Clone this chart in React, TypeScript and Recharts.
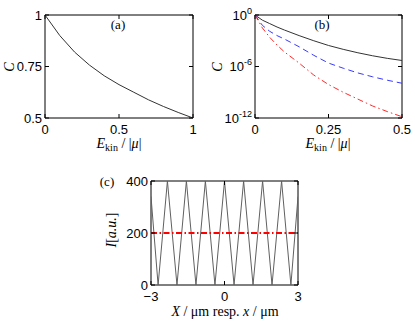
import React from 'react';
import { LineChart, Line, XAxis, YAxis, ReferenceArea } from 'recharts';

// ---- Panel (a) ----
const aEkin = [0, 0.1, 0.2, 0.3, 0.4, 0.5, 0.6, 0.7, 0.8, 0.9, 1.0];
const aC = [1.0, 0.9, 0.82, 0.757, 0.705, 0.662, 0.625, 0.588, 0.556, 0.527, 0.5];
const aXTicks = [0, 0.5, 1];
const aYTicks = [0.5, 0.75, 1];

// ---- Panel (b) (log10 of C) ----
const bEkin = [0, 0.025, 0.05, 0.075, 0.1, 0.15, 0.2, 0.25, 0.3, 0.35, 0.4, 0.45, 0.5];
const bBlackExp = [0, -0.6, -1.0, -1.4, -1.75, -2.4, -3.0, -3.55, -4.0, -4.4, -4.75, -5.05, -5.3];
const bBlueExp = [0, -1.2, -1.9, -2.4, -2.8, -3.7, -4.7, -5.6, -6.2, -6.75, -7.2, -7.6, -7.95];
const bRedExp = [0, -1.5, -2.6, -3.5, -4.3, -5.6, -7.0, -8.1, -9.0, -9.8, -10.6, -11.25, -11.85];
const bXTicks = [0, 0.25, 0.5];
const bYTicks = [-12, -6, 0];

// ---- Panel (c) ----
const cX = [-3, -2.71, -2.33, -1.94, -1.555, -1.165, -0.78, -0.39, 0, 0.39, 0.78, 1.165, 1.555, 1.94, 2.33, 2.71, 3];
const cI = [340, 0, 400, 0, 400, 0, 400, 0, 400, 0, 400, 0, 400, 0, 400, 0, 340];
const cClassicX = [-3, 3];
const cClassicI = [200, 200];
const cXTicks = [-3, 0, 3];
const cYTicks = [0, 200, 400];

const aData = aEkin.map((e, i) => ({ e, c: aC[i] }));
const bData = bEkin.map((e, i) => ({ e, k: bBlackExp[i], bl: bBlueExp[i], r: bRedExp[i] }));
const cData = cX.map((x, i) => ({ x, i: cI[i] }));
const cClassic = cClassicX.map((x, i) => ({ x, i: cClassicI[i] }));

const SANS = '"Liberation Sans", Arial, Helvetica, sans-serif';
const SERIF = '"Liberation Serif", "DejaVu Serif", serif';

function xTick(plotH: number, fmt: (v: number) => React.ReactNode, dy = 16) {
  return (p: any) => {
    const { x, y, payload } = p;
    return (
      <g>
        <line x1={x} x2={x} y1={y} y2={y - 4} stroke="#000" />
        <line x1={x} x2={x} y1={y - plotH} y2={y - plotH + 4} stroke="#000" />
        <text x={x} y={y + dy} textAnchor="middle" fontFamily={SANS} fontSize={13} fill="#000">
          {fmt(payload.value)}
        </text>
      </g>
    );
  };
}

function yTick(plotW: number, fmt: (v: number) => React.ReactNode) {
  return (p: any) => {
    const { x, y, payload } = p;
    return (
      <g>
        <line x1={x} x2={x + 4} y1={y} y2={y} stroke="#000" />
        <line x1={x + plotW - 4} x2={x + plotW} y1={y} y2={y} stroke="#000" />
        <text x={x - 3} y={y + 4.5} textAnchor="end" fontFamily={SANS} fontSize={13} fill="#000">
          {fmt(payload.value)}
        </text>
      </g>
    );
  };
}

const plain = (v: number) => String(v);
const signed = (v: number) => (v < 0 ? '\u2212' + Math.abs(v) : String(v));
const pow10 = (v: number) => (
  <>
    <tspan>10</tspan>
    <tspan fontSize={9} dy={-6}>{String(v)}</tspan>
  </>
);

export default function App() {
  return (
    <div style={{ position: 'absolute', left: 0, top: 0, width: 415, height: 321, background: '#fff' }}>
      <div style={{ position: 'absolute', left: 0, top: 0 }}>
        <LineChart width={205} height={160} data={aData} margin={{ top: 15, right: 12, bottom: 12, left: 0 }}>
          <XAxis type="number" dataKey="e" domain={[0, 1]} ticks={aXTicks} interval={0} tickSize={0} tickMargin={0}
            axisLine={false} tickLine={false} height={30} tick={xTick(103, plain)} allowDataOverflow />
          <YAxis type="number" domain={[0.5, 1]} ticks={aYTicks} interval={0} tickSize={0} tickMargin={0}
            axisLine={false} tickLine={false} width={45} tick={yTick(148, plain)} allowDataOverflow />
          <ReferenceArea x1={0} x2={1} y1={0.5} y2={1} fill="none" stroke="#000" strokeWidth={1} />
          <Line type="linear" dataKey="c" stroke="#333" strokeWidth={1} dot={false} isAnimationActive={false} />
        </LineChart>
      </div>
      <div style={{ position: 'absolute', left: 205, top: 0 }}>
        <LineChart width={210} height={160} data={bData} margin={{ top: 15, right: 13, bottom: 12, left: 0 }}>
          <XAxis type="number" dataKey="e" domain={[0, 0.5]} ticks={bXTicks} interval={0} tickSize={0} tickMargin={0}
            axisLine={false} tickLine={false} height={30} tick={xTick(103, plain)} allowDataOverflow />
          <YAxis type="number" domain={[-12, 0]} ticks={bYTicks} interval={0} tickSize={0} tickMargin={0}
            axisLine={false} tickLine={false} width={50} tick={yTick(147, pow10)} allowDataOverflow />
          <ReferenceArea x1={0} x2={0.5} y1={-12} y2={0} fill="none" stroke="#000" strokeWidth={1} />
          <Line type="linear" dataKey="k" stroke="#333" strokeWidth={1} dot={false} isAnimationActive={false} />
          <Line type="linear" dataKey="bl" stroke="#3a3aff" strokeWidth={1} strokeDasharray="6 4" dot={false} isAnimationActive={false} />
          <Line type="linear" dataKey="r" stroke="#ff2a2a" strokeWidth={1} strokeDasharray="6 3 1.5 3" dot={false} isAnimationActive={false} />
        </LineChart>
      </div>
      <div style={{ position: 'absolute', left: 100, top: 160 }}>
        <LineChart width={215} height={161} margin={{ top: 21, right: 17, bottom: 6, left: 0 }}>
          <XAxis type="number" dataKey="x" domain={[-3, 3]} ticks={cXTicks} interval={0} tickSize={0} tickMargin={0}
            axisLine={false} tickLine={false} height={30} tick={xTick(104, signed, 15.5)} allowDataOverflow />
          <YAxis type="number" dataKey="i" domain={[0, 400]} ticks={cYTicks} interval={0} tickSize={0} tickMargin={0}
            axisLine={false} tickLine={false} width={51} tick={yTick(147, plain)} allowDataOverflow />
          <ReferenceArea x1={-3} x2={3} y1={0} y2={400} fill="none" stroke="#000" strokeWidth={1} />
          <Line data={cData} type="linear" dataKey="i" stroke="#606060" strokeWidth={1} dot={false} isAnimationActive={false} />
          <Line data={cClassic} type="linear" dataKey="i" stroke="#ff0000" strokeWidth={2} strokeDasharray="6 2.5 1.5 2.5" dot={false} isAnimationActive={false} />
        </LineChart>
      </div>
      <svg width={415} height={321} style={{ position: 'absolute', left: 0, top: 0, pointerEvents: 'none' }}>
        <g fontFamily={SERIF} fill="#000">
          {/* Panel (a) */}
          <text x={118} y={29} fontSize={13} textAnchor="middle">(a)</text>
          <text transform="translate(14,67) rotate(-90)" fontSize={14} fontStyle="italic" textAnchor="middle">C</text>
          <text x={119} y={148} fontSize={14} textAnchor="middle">
            <tspan fontStyle="italic">E</tspan>
            <tspan fontSize={10} dy={3}>kin</tspan>
            <tspan dy={-3}> / |</tspan>
            <tspan fontStyle="italic">μ</tspan>
            <tspan>|</tspan>
          </text>
          {/* Panel (b) */}
          <text x={322} y={29} fontSize={13} textAnchor="middle">(b)</text>
          <text transform="translate(222,67) rotate(-90)" fontSize={14} fontStyle="italic" textAnchor="middle">C</text>
          <text x={328} y={148} fontSize={14} textAnchor="middle">
            <tspan fontStyle="italic">E</tspan>
            <tspan fontSize={10} dy={3}>kin</tspan>
            <tspan dy={-3}> / |</tspan>
            <tspan fontStyle="italic">μ</tspan>
            <tspan>|</tspan>
          </text>
          {/* Panel (c) */}
          <text x={107} y={186} fontSize={13} textAnchor="middle">(c)</text>
          <text transform="translate(116,230) rotate(-90)" fontSize={14} textAnchor="middle">
            <tspan fontStyle="italic">I</tspan>
            <tspan>[</tspan>
            <tspan fontStyle="italic">a.u.</tspan>
            <tspan>]</tspan>
          </text>
          <text x={225} y={316} fontSize={14} textAnchor="middle">
            <tspan fontStyle="italic">X</tspan>
            <tspan> / μm resp. </tspan>
            <tspan fontStyle="italic">x</tspan>
            <tspan> / μm</tspan>
          </text>
        </g>
      </svg>
    </div>
  );
}
